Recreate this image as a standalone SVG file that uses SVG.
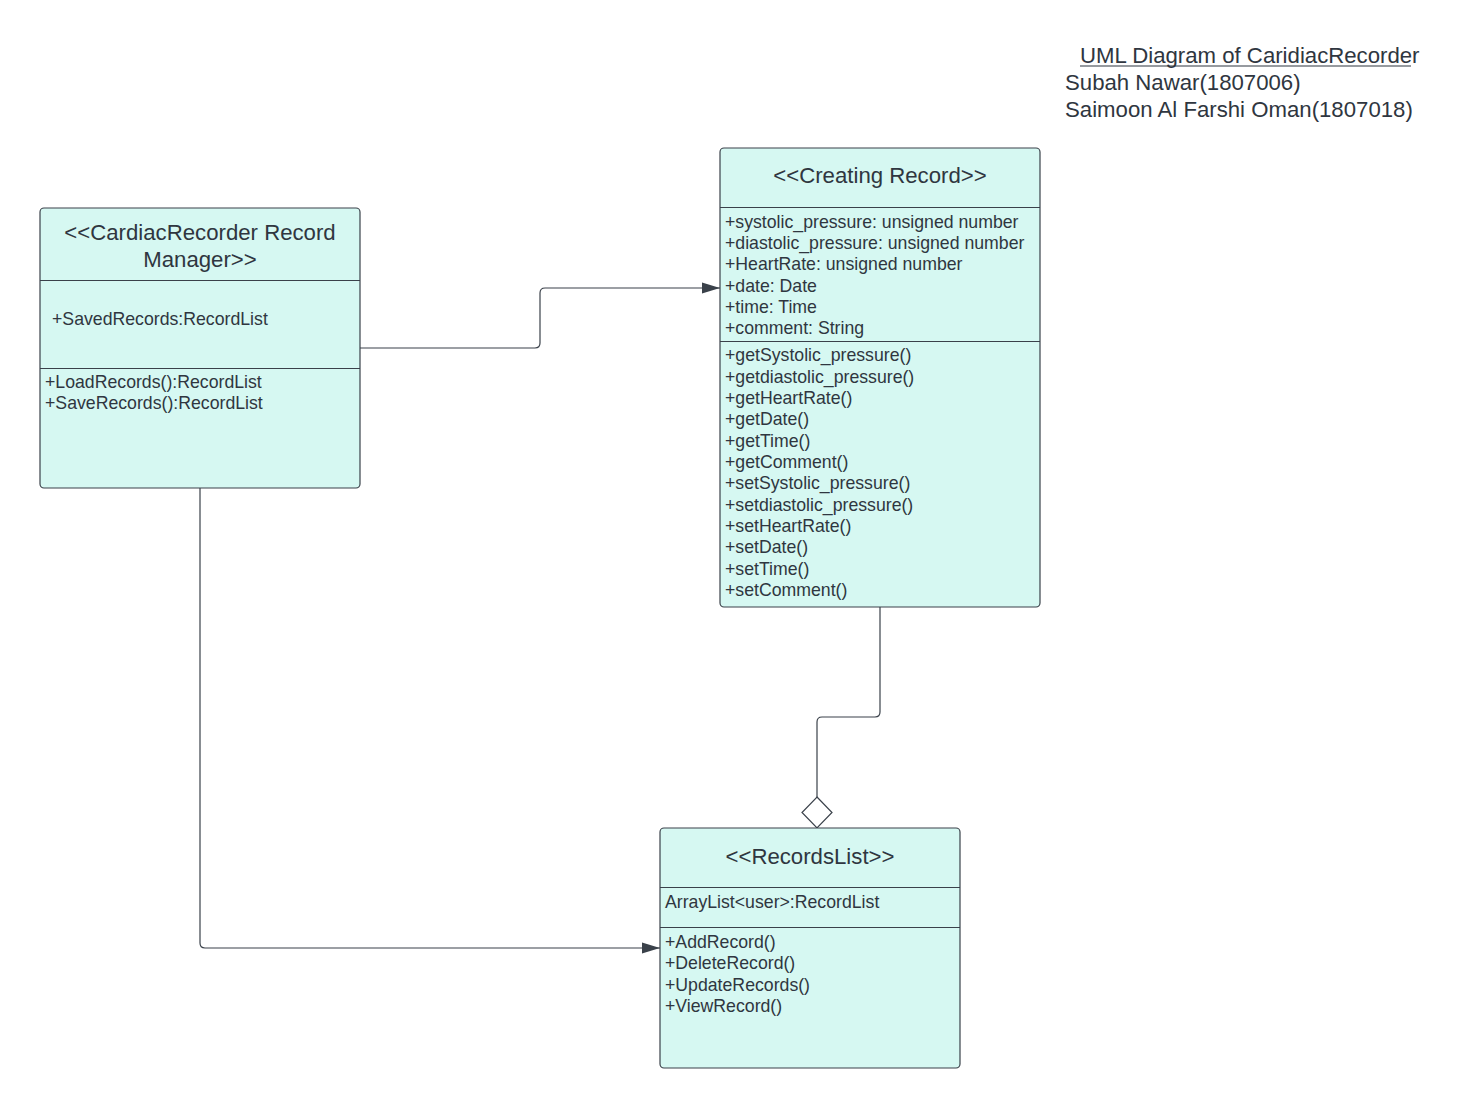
<svg xmlns="http://www.w3.org/2000/svg" width="1480" height="1108" viewBox="0 0 1480 1108">
  <style>
    .box { fill: #d6f8f2; stroke: #3a414a; stroke-width: 1.2; }
    .div { stroke: #3a414a; stroke-width: 1.2; fill: none; }
    .title { font-family: "Liberation Sans", Arial, sans-serif; font-size: 22.2px; fill: #2f3640; text-anchor: middle; }
    .item { font-family: "Liberation Sans", Arial, sans-serif; font-size: 17.7px; fill: #2f3640; }
    .head { font-family: "Liberation Sans", Arial, sans-serif; font-size: 22.2px; fill: #2f3640; }
    .wire { stroke: #3a414a; stroke-width: 1.2; fill: none; }
  </style>
  <defs>
    <marker id="arrow" markerWidth="20" markerHeight="14" refX="18" refY="7" orient="auto" markerUnits="userSpaceOnUse">
      <path d="M0,1.5 L18,7 L0,12.5 Z" fill="#3a414a"/>
    </marker>
  </defs>
  <rect width="1480" height="1108" fill="#ffffff"/>

  <!-- heading -->
  <g id="heading">
    <text class="head" x="1080" y="63">UML Diagram of CaridiacRecorder</text>
    <line x1="1080" y1="66" x2="1411" y2="66" stroke="#2f3640" stroke-width="1.2"/>
    <text class="head" x="1065" y="90">Subah Nawar(1807006)</text>
    <text class="head" x="1065" y="117">Saimoon Al Farshi Oman(1807018)</text>
  </g>

  <!-- connectors -->
  <g id="connectors">
    <path class="wire" d="M360,348 H535 Q540,348 540,343 V293 Q540,288 545,288 H720" marker-end="url(#arrow)"/>
    <path class="wire" d="M200,488 V943 Q200,948 205,948 H660" marker-end="url(#arrow)"/>
    <path class="wire" d="M880,607 V712 Q880,717 875,717 H822 Q817,717 817,722 V797"/>
    <path d="M817,797 L832,812.5 L817,828 L802,812.5 Z" fill="#ffffff" stroke="#3a414a" stroke-width="1.2"/>
  </g>

  <!-- record manager class -->
  <g id="record-manager">
    <rect class="box" x="40" y="208" width="320" height="280" rx="4"/>
    <line class="div" x1="40" y1="280.5" x2="360" y2="280.5"/>
    <line class="div" x1="40" y1="368.5" x2="360" y2="368.5"/>
    <text class="title" x="200" y="240">&lt;&lt;CardiacRecorder Record</text>
    <text class="title" x="200" y="267">Manager&gt;&gt;</text>
    <text class="item" x="52" y="325">+SavedRecords:RecordList</text>
    <text class="item" x="45" y="388">+LoadRecords():RecordList</text>
    <text class="item" x="45" y="409">+SaveRecords():RecordList</text>
  </g>

  <!-- creating record class -->
  <g id="creating-record">
    <rect class="box" x="720" y="148" width="320" height="459" rx="4"/>
    <line class="div" x1="720" y1="207.5" x2="1040" y2="207.5"/>
    <line class="div" x1="720" y1="341.5" x2="1040" y2="341.5"/>
    <text class="title" x="880" y="183">&lt;&lt;Creating Record&gt;&gt;</text>
    <text class="item" x="725" y="228">+systolic_pressure: unsigned number</text>
    <text class="item" x="725" y="249">+diastolic_pressure: unsigned number</text>
    <text class="item" x="725" y="270">+HeartRate: unsigned number</text>
    <text class="item" x="725" y="292">+date: Date</text>
    <text class="item" x="725" y="313">+time: Time</text>
    <text class="item" x="725" y="334">+comment: String</text>
    <text class="item" x="725" y="361">+getSystolic_pressure()</text>
    <text class="item" x="725" y="383">+getdiastolic_pressure()</text>
    <text class="item" x="725" y="404">+getHeartRate()</text>
    <text class="item" x="725" y="425">+getDate()</text>
    <text class="item" x="725" y="447">+getTime()</text>
    <text class="item" x="725" y="468">+getComment()</text>
    <text class="item" x="725" y="489">+setSystolic_pressure()</text>
    <text class="item" x="725" y="511">+setdiastolic_pressure()</text>
    <text class="item" x="725" y="532">+setHeartRate()</text>
    <text class="item" x="725" y="553">+setDate()</text>
    <text class="item" x="725" y="575">+setTime()</text>
    <text class="item" x="725" y="596">+setComment()</text>
  </g>

  <!-- records list class -->
  <g id="records-list">
    <rect class="box" x="660" y="828" width="300" height="240" rx="4"/>
    <line class="div" x1="660" y1="887.5" x2="960" y2="887.5"/>
    <line class="div" x1="660" y1="927.5" x2="960" y2="927.5"/>
    <text class="title" x="810" y="864">&lt;&lt;RecordsList&gt;&gt;</text>
    <text class="item" x="665" y="908">ArrayList&lt;user&gt;:RecordList</text>
    <text class="item" x="665" y="948">+AddRecord()</text>
    <text class="item" x="665" y="969">+DeleteRecord()</text>
    <text class="item" x="665" y="991">+UpdateRecords()</text>
    <text class="item" x="665" y="1012">+ViewRecord()</text>
  </g>
</svg>
